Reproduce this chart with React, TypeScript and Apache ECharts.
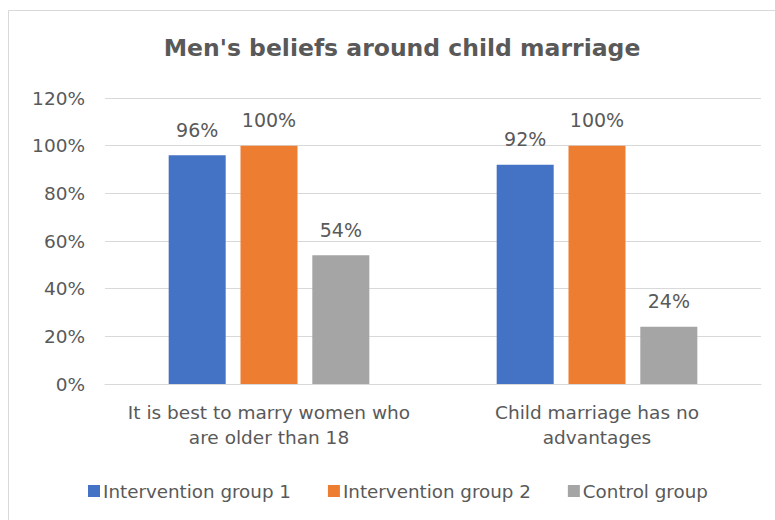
import React, { useEffect, useRef } from "react";
import * as echarts from "echarts";

const categories = ["It is best to marry women who\nare older than 18", "Child marriage has no\nadvantages"];
const seriesNames = ["Intervention group 1", "Intervention group 2", "Control group"];
const group1 = [96, 92];
const group2 = [100, 100];
const control = [54, 24];
const colors = ["#4472C4", "#ED7D31", "#A5A5A5"];

const FONT = "DejaVu Sans";
const TEXT = "#595959";

export default function App() {
  const ref = useRef<HTMLDivElement>(null);
  useEffect(() => {
    if (!ref.current) return;
    const chart = echarts.init(ref.current, undefined, { renderer: "svg" });
    const values = [group1, group2, control];
    chart.setOption({
      animation: false,
      textStyle: { fontFamily: FONT, color: TEXT },
      graphic: [
        {
          type: "rect",
          shape: { x: 8.5, y: 10.5, width: 800, height: 600 },
          style: { fill: "none", stroke: "#d9d9d9", lineWidth: 1 },
          silent: true,
        },
      ],
      title: {
        text: "Men's beliefs around child marriage",
        left: 397,
        textAlign: "center",
        top: 31,
        textStyle: { fontFamily: FONT, fontSize: 23.5, fontWeight: "bold", color: TEXT },
      },
      legend: {
        data: seriesNames,
        left: 83,
        top: 477,
        icon: "rect",
        itemWidth: 12,
        itemHeight: 12,
        itemGap: 37,
        textStyle: { fontFamily: FONT, fontSize: 18.3, color: TEXT, padding: [0, 0, 0, -2] },
      },
      grid: { left: 105, right: 14, top: 98, bottom: 136, containLabel: false },
      xAxis: {
        type: "category",
        data: categories,
        axisLine: { show: true, lineStyle: { color: "#d9d9d9", width: 1 } },
        axisTick: { show: false },
        axisLabel: { interval: 0, hideOverlap: false, fontFamily: FONT, fontSize: 18.5, color: TEXT, lineHeight: 25, margin: 16 },
      },
      yAxis: {
        type: "value",
        min: 0,
        max: 120,
        interval: 20,
        axisLine: { show: false },
        axisTick: { show: false },
        splitLine: { lineStyle: { color: "#d9d9d9", width: 1 } },
        axisLabel: { formatter: "{value}%", fontFamily: FONT, fontSize: 18.5, color: TEXT, margin: 20 },
      },
      series: seriesNames.map((name, i) => ({
        name,
        type: "bar",
        data: values[i],
        barWidth: 57,
        barGap: "26%",
        itemStyle: { color: colors[i] },
        label: {
          show: true,
          position: "top",
          distance: 16,
          formatter: "{c}%",
          fontFamily: FONT,
          fontSize: 19,
          color: TEXT,
        },
      })),
    });
    return () => chart.dispose();
  }, []);
  return (
    <div
      ref={ref}
      style={{ position: "absolute", left: 0, top: 0, width: 775, height: 520, background: "#fff" }}
    />
  );
}
